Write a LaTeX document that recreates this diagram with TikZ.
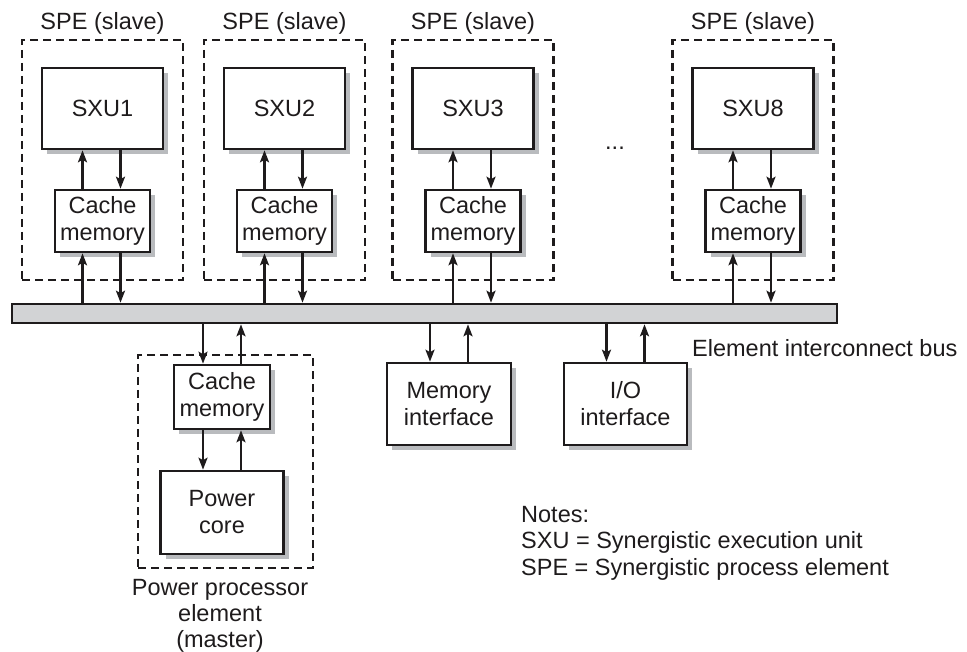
\documentclass[tikz,border=0pt]{standalone}
\usepackage{fontspec}
\setmainfont{Liberation Sans}
\usetikzlibrary{arrows.meta,shadows}
\definecolor{ink}{RGB}{30,27,28}
\definecolor{busgray}{RGB}{210,211,213}
\definecolor{shadowgray}{RGB}{185,187,190}
\tikzset{
  txt/.style={font=\fontsize{23.5}{27}\selectfont, text=ink, inner sep=0pt},
  box/.style={txt, draw=ink, line width=2.6pt, fill=white, align=center,
     drop shadow={shadow xshift=5pt, shadow yshift=-5pt, fill=shadowgray, opacity=1}},
  grp/.style={draw=ink, line width=2.4pt, dash pattern=on 8pt off 5pt, inner sep=0pt},
  arr/.style={draw=ink, line width=2.5pt, -{Stealth[length=12pt,width=9pt,inset=2.5pt]}},
}
\begin{document}
\begin{tikzpicture}[x=1pt,y=-1pt]
\useasboundingbox (0,0) rectangle (967,652);

% bus
\node[draw=ink, fill=busgray, line width=2.6pt, minimum width=825pt, minimum height=19pt, inner sep=0pt] (bus) at (424.5,313.5) {};

% SPE groups
\foreach \i/\cx/\lab in {1/102.5/SXU1, 2/284.5/SXU2, 3/473/SXU3, 8/753/SXU8}{
  \node[grp, minimum width=161pt, minimum height=240pt] (g\i) at (\cx,160) {};
  \node[txt, anchor=base] (gl\i) at (\cx,30) {SPE (slave)};
  \node[box, minimum width=121pt, minimum height=81pt] (s\i) at (\cx,108.5) {\lab};
  \node[box, minimum width=95pt, minimum height=62pt] (c\i) at (\cx,221) {Cache\\memory};
  \draw[arr] ([xshift=-20pt]c\i.north) -- ([xshift=-20pt]s\i.south);
  \draw[arr] ([xshift=18pt]s\i.south) -- ([xshift=18pt]c\i.north);
  \coordinate (cl\i) at ([xshift=-20pt]c\i.south);
  \coordinate (cr\i) at ([xshift=18pt]c\i.south);
  \draw[arr] (cl\i |- bus.north) -- (cl\i);
  \draw[arr] (cr\i) -- (cr\i |- bus.north);
}

\node[txt, anchor=base] (dots) at (615,150) {...};

% power processor element
\node[grp, minimum width=175pt, minimum height=213pt] (ppe) at (225.5,461.5) {};
\node[box, minimum width=96pt, minimum height=64pt] (pc) at (222,397) {Cache\\memory};
\node[box, minimum width=123pt, minimum height=83pt] (core) at (222,512.5) {Power\\core};
\coordinate (pcl) at ([xshift=-19pt]pc.north);
\coordinate (pcr) at ([xshift=19pt]pc.north);
\draw[arr] (pcl |- bus.south) -- (pcl);
\draw[arr] (pcr) -- (pcr |- bus.south);
\draw[arr] ([xshift=-19pt]pc.south) -- ([xshift=-19pt]core.north);
\draw[arr] ([xshift=19pt]core.north) -- ([xshift=19pt]pc.south);

\node[txt, anchor=base] (ppl1) at (220,595) {Power processor};
\node[txt, anchor=base] (ppl2) at (220,621.5) {element};
\node[txt, anchor=base] (ppl3) at (220,647) {(master)};

% memory and I/O interfaces
\node[box, minimum width=124pt, minimum height=82pt] (mem) at (449,404) {Memory\\interface};
\node[box, minimum width=123pt, minimum height=82pt] (io) at (625.5,404) {I/O\\interface};
\coordinate (ml) at ([xshift=-19pt]mem.north);
\coordinate (mr) at ([xshift=19pt]mem.north);
\coordinate (il) at ([xshift=-19pt]io.north);
\coordinate (ir) at ([xshift=19pt]io.north);
\draw[arr] (ml |- bus.south) -- (ml);
\draw[arr] (mr) -- (mr |- bus.south);
\draw[arr] (il |- bus.south) -- (il);
\draw[arr] (ir) -- (ir |- bus.south);

\node[txt, anchor=base west] (ebus) at (692,357) {Element interconnect bus};

% notes
\node[txt, anchor=base west] (n1) at (521,522) {Notes:};
\node[txt, anchor=base west] (n2) at (521,548.5) {SXU = Synergistic execution unit};
\node[txt, anchor=base west] (n3) at (521,575) {SPE = Synergistic process element};
\end{tikzpicture}
\end{document}
